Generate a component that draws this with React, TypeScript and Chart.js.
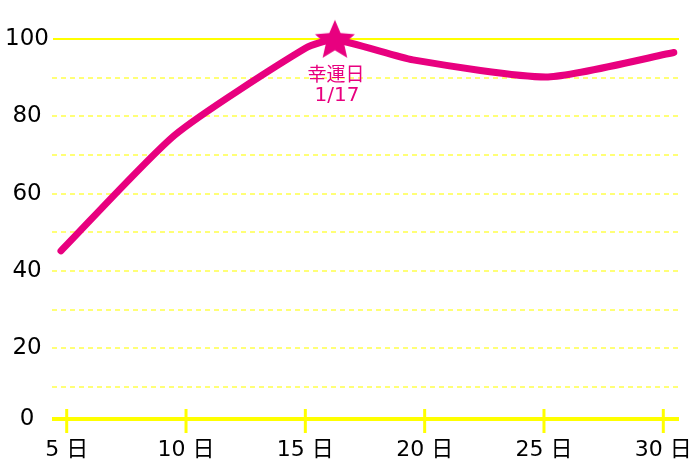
import React, { useEffect, useRef } from "react";
import { Chart, registerables } from "chart.js";

Chart.register(...registerables);

const days = [4.76, 9.54, 15.0, 16.24, 19.51, 25.17, 30.44];
const values = [45.2, 75.2, 97.6, 99.8, 94.6, 90.2, 96.5];
const luckyIndex = 3;
const luckyLabel = "幸運日";
const luckyDate = "1/17";
const xTicks = [5, 10, 15, 20, 25, 30];
const xTickSuffix = " 日";
const yTicks = [10, 20, 30, 40, 50, 60, 70, 80, 90, 100];
const yMin = 1.7;
const yMax = 100;
const xMin = 4.384;
const xMax = 30.658;

const PINK = "#e8007f";
const YELLOW = "#ffff00";
const FONT = '"DejaVu Sans", "Noto Sans CJK JP", sans-serif';

function makeStar(): HTMLCanvasElement {
  const c = document.createElement("canvas");
  c.width = 46;
  c.height = 46;
  const g = c.getContext("2d")!;
  const cx = 23, cy = 24, R = 21, r = 9.6;
  g.beginPath();
  for (let i = 0; i < 10; i++) {
    const rad = i % 2 === 0 ? R : r;
    const a = -Math.PI / 2 + (i * Math.PI) / 5;
    const px = cx + rad * Math.cos(a);
    const py = cy + rad * Math.sin(a);
    if (i === 0) g.moveTo(px, py);
    else g.lineTo(px, py);
  }
  g.closePath();
  g.fillStyle = PINK;
  g.fill();
  return c;
}

const decorPlugin = {
  id: "decor",
  beforeDatasetsDraw(chart: any) {
    const { ctx, chartArea } = chart;
    const xs = chart.scales.x;
    const ys = chart.scales.y;
    ctx.save();
    const y100 = ys.getPixelForValue(100);
    ctx.strokeStyle = YELLOW;
    ctx.lineWidth = 2;
    ctx.beginPath();
    ctx.moveTo(chartArea.left + 1, y100);
    ctx.lineTo(chartArea.right, y100);
    ctx.stroke();
    const yb = ys.getPixelForValue(yMin);
    ctx.lineWidth = 4;
    ctx.beginPath();
    ctx.moveTo(chartArea.left, yb);
    ctx.lineTo(chartArea.right, yb);
    ctx.stroke();
    ctx.lineWidth = 3;
    xTicks.forEach((v) => {
      const x = xs.getPixelForValue(v);
      ctx.beginPath();
      ctx.moveTo(x, yb - 10);
      ctx.lineTo(x, yb + 14);
      ctx.stroke();
    });
    ctx.restore();
  },
  afterDatasetsDraw(chart: any) {
    const { ctx } = chart;
    const pt = chart.getDatasetMeta(0).data[luckyIndex];
    if (!pt) return;
    ctx.save();
    ctx.fillStyle = PINK;
    ctx.textAlign = "center";
    ctx.textBaseline = "middle";
    ctx.font = '19px "Noto Sans CJK JP", sans-serif';
    ctx.fillText(luckyLabel, pt.x + 1, pt.y + 34);
    ctx.font = '20px "DejaVu Sans", sans-serif';
    ctx.fillText(luckyDate, pt.x + 2, pt.y + 56);
    ctx.restore();
  },
};

export default function App() {
  const ref = useRef<HTMLCanvasElement | null>(null);

  useEffect(() => {
    document.body.style.margin = "0";
    const canvas = ref.current;
    if (!canvas) return;
    const star = makeStar();
    const chart = new Chart(canvas, {
      type: "line",
      data: {
        datasets: [
          {
            data: days.map((d, i) => ({ x: d, y: values[i] })),
            borderColor: PINK,
            backgroundColor: PINK,
            borderWidth: 7,
            borderCapStyle: "round",
            borderJoinStyle: "round",
            tension: 0.2,
            pointRadius: (c: any) => (c.dataIndex === luckyIndex ? 12 : 0),
            pointStyle: (c: any) => (c.dataIndex === luckyIndex ? star : "circle"),
            pointBorderWidth: 0,
            pointHoverRadius: 0,
            clip: false,
          } as any,
        ],
      },
      options: {
        responsive: false,
        animation: false,
        events: [],
        layout: { autoPadding: false, padding: { top: 39, left: 7, right: 21, bottom: 4 } },
        plugins: { legend: { display: false }, tooltip: { enabled: false } },
        scales: {
          x: {
            type: "linear",
            min: xMin,
            max: xMax,
            afterBuildTicks: (s: any) => {
              s.ticks = xTicks.map((v) => ({ value: v }));
            },
            afterFit: (s: any) => {
              s.height = 44;
              s.paddingLeft = 0;
              s.paddingRight = 0;
            },
            ticks: {
              autoSkip: false,
              maxRotation: 0,
              padding: 18,
              color: "#000",
              font: { family: FONT, size: 22 },
              callback: (v: any) => `${v}${xTickSuffix}`,
            },
            grid: { display: false, drawTicks: false },
            border: { display: false },
          },
          y: {
            type: "linear",
            min: yMin,
            max: yMax,
            afterBuildTicks: (s: any) => {
              s.ticks = [yMin, ...yTicks].map((v) => ({ value: v }));
            },
            afterFit: (s: any) => {
              s.width = 45;
              s.paddingTop = 0;
              s.paddingBottom = 0;
            },
            ticks: {
              autoSkip: false,
              padding: 3,
              crossAlign: "center",
              color: "#000",
              font: { family: FONT, size: 23 },
              callback: (v: any) => {
                if (v === yMin) return "0";
                return v % 20 === 0 ? String(v) : "";
              },
            },
            grid: {
              drawTicks: false,
              lineWidth: 2,
              color: (c: any) =>
                c.tick && (c.tick.value === yMin || c.tick.value === 100)
                  ? "rgba(0,0,0,0)"
                  : "rgba(255,255,60,0.7)",
            },
            border: { display: false, dash: [5, 4] },
          },
        },
      },
      plugins: [decorPlugin],
    } as any);
    return () => chart.destroy();
  }, []);

  return (
    <div style={{ width: 700, height: 467 }}>
      <canvas ref={ref} width={700} height={467} style={{ width: 700, height: 467, display: "block" }} />
    </div>
  );
}
